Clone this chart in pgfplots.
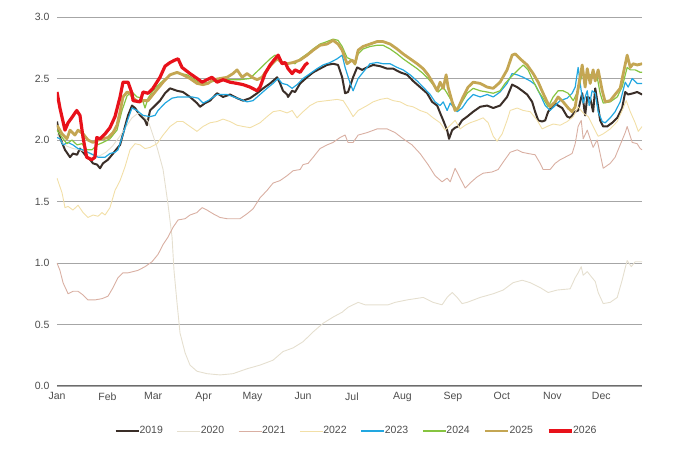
\documentclass[border=0pt]{standalone}
\usepackage{fontspec}
\setmainfont{Liberation Sans}
\usepackage{pgfplots}
\pgfplotsset{compat=1.18}
\definecolor{c2019}{HTML}{3A2E28}
\definecolor{c2020}{HTML}{E5DFCF}
\definecolor{c2021}{HTML}{D9AFA2}
\definecolor{c2022}{HTML}{F2DFA7}
\definecolor{c2023}{HTML}{22A7E0}
\definecolor{c2024}{HTML}{86C440}
\definecolor{c2025}{HTML}{C4A653}
\definecolor{c2026}{HTML}{E8111A}
\definecolor{gridc}{HTML}{A6A6A6}
\definecolor{labc}{HTML}{4D4D4D}
\begin{document}
\begin{tikzpicture}
\begin{axis}[
  width=585pt, height=369pt, scale only axis,
  xmin=0, xmax=359, ymin=0, ymax=3,
  axis line style={draw=none},
  ytick={0,0.5,1,1.5,2,2.5,3},
  xtick={0,31,59,90,120,151,181,212,243,273,304,334},
  xticklabels={Jan,Feb,Mar,Apr,May,Jun,Jul,Aug,Sep,Oct,Nov,Dec},
  major tick length=0pt,
  ymajorgrids, grid style={color=gridc, line width=0.9pt},
  /pgf/number format/assume math mode=true,
  /pgf/number format/fixed, /pgf/number format/fixed zerofill, /pgf/number format/precision=1,
  tick label style={font=\fontsize{10.5}{12}\selectfont, text=labc},
  yticklabel style={xshift=-4pt},
  xticklabel style={yshift=-3pt},
  legend columns=-1,
  legend style={at={(0.512,-0.122)}, anchor=center, draw=none, fill=none,
    font=\fontsize{10.5}{12}\selectfont, text=labc,
    /tikz/every even column/.append style={column sep=12pt},
    /tikz/every odd column/.append style={column sep=-2pt}},
  legend image code/.code={\draw[#1] (0pt,0pt) -- (23pt,0pt);},
  every axis plot/.append style={line join=round},
]
\coordinate (ll) at (rel axis cs:0,0);
\coordinate (ur) at (rel axis cs:1,1);
\draw[color=gray!85!black, line width=1.6pt] (rel axis cs:0,0) -- (rel axis cs:1,0);

% 2019
\addplot[c2019, line width=2pt] coordinates {
(0,2.15) (1.8,2.02) (4.9,1.92) (8.0,1.86) (9.8,1.89) (12.3,1.88) (14.1,1.93) (16.0,1.90) (18.4,1.86) (20.3,1.84) (22.1,1.81) (24.6,1.80) (26.4,1.77) (28.2,1.81) (31.3,1.84) (34.4,1.89) (36.8,1.93) (38.7,1.96) (40.5,2.05) (43.6,2.20) (46.0,2.28) (47.9,2.26) (51.0,2.20) (54.0,2.16) (55.2,2.12) (57.1,2.24) (60.2,2.28) (63.2,2.32) (66.3,2.38) (69.4,2.42) (73.7,2.40) (77.3,2.39) (81.6,2.35) (85.9,2.30) (87.8,2.27) (90.9,2.30) (93.9,2.32) (98.2,2.38) (101.9,2.35) (106.2,2.37) (110.5,2.34) (114.2,2.32) (118.5,2.34) (122.8,2.38) (126.5,2.42) (130.8,2.46) (135.1,2.51) (136.9,2.46) (138.7,2.40) (141.2,2.37) (141.8,2.35) (144.3,2.40) (146.1,2.39) (149.2,2.46) (153.5,2.51) (157.2,2.55) (161.4,2.58) (165.7,2.61) (169.4,2.62) (172.5,2.61) (175.0,2.51) (176.8,2.38) (178.6,2.39) (181.7,2.51) (184.2,2.59) (187.2,2.57) (190.3,2.59) (194.0,2.61) (198.3,2.60) (202.6,2.58) (206.3,2.58) (210.6,2.55) (214.9,2.53) (218.5,2.48) (222.8,2.43) (227.1,2.38) (230.2,2.31) (233.3,2.28) (235.1,2.22) (237.0,2.16) (239.4,2.08) (240.6,2.01) (242.5,2.08) (244.3,2.10) (246.2,2.11) (248.6,2.16) (251.7,2.19) (255.4,2.23) (259.7,2.27) (264.0,2.28) (267.7,2.26) (271.9,2.28) (276.2,2.35) (279.3,2.45) (282.4,2.43) (285.5,2.40) (288.5,2.37) (291.6,2.31) (293.4,2.23) (295.3,2.16) (297.7,2.15) (299.6,2.16) (301.4,2.23) (303.9,2.27) (305.7,2.30) (307.5,2.28) (310.0,2.26) (313.1,2.19) (314.9,2.18) (318.0,2.23) (319.8,2.24) (322.3,2.38) (324.1,2.20) (325.4,2.35) (327.2,2.34) (329.0,2.23) (330.3,2.42) (332.1,2.27) (333.3,2.16) (335.2,2.11) (337.6,2.11) (340.7,2.14) (343.8,2.18) (346.8,2.26) (348.7,2.39) (350.5,2.37) (353.6,2.38) (356.0,2.39) (359.1,2.37)
};
\addlegendentry{2019}

% 2020
\addplot[c2020, line width=0.9pt] coordinates {
(0,2.05) (3,1.98) (6,1.95) (10,1.93) (14,1.92) (18,1.90) (22,1.88) (26,1.87) (30,1.90) (34,1.95) (38,2.02) (42,2.10) (46,2.18) (50,2.22) (53,2.20) (55.9,2.15) (57.1,2.11) (61.4,1.94) (65.1,1.76) (68.1,1.48) (70.6,1.21) (71.8,0.94) (73.7,0.67) (75.5,0.43) (78.6,0.27) (81.6,0.17) (85.9,0.12) (92.1,0.10) (100.1,0.09) (108.0,0.10) (116.6,0.14) (124.6,0.17) (132.6,0.21) (138.7,0.28) (144.9,0.31) (151.0,0.36) (157.2,0.44) (163.3,0.51) (169.4,0.56) (175.0,0.60) (178.6,0.64) (181.7,0.66) (184.8,0.68) (189.1,0.66) (196.4,0.66) (203.2,0.66) (207.5,0.68) (214.9,0.70) (224.7,0.72) (230.8,0.68) (236.3,0.66) (239.4,0.72) (242.5,0.76) (245.6,0.72) (248.6,0.67) (251.7,0.68) (259.7,0.72) (267.7,0.75) (273.8,0.78) (279.9,0.84) (285.5,0.86) (290.4,0.84) (296.5,0.80) (301.4,0.76) (306.9,0.78) (314.9,0.79) (318.0,0.88) (319.8,0.92) (321.7,0.97) (322.9,0.90) (325.4,0.93) (328.4,0.88) (330.3,0.85) (332.1,0.76) (335.2,0.67) (339.5,0.68) (343.8,0.72) (346.8,0.86) (348.7,0.96) (349.9,1.02) (352.4,0.97) (354.8,1.01) (359.1,1.01)
};
\addlegendentry{2020}

% 2021
\addplot[c2021, line width=0.9pt] coordinates {
(0,1.00) (1.8,0.94) (3.7,0.84) (6.8,0.75) (9.8,0.77) (12.9,0.77) (16.0,0.74) (19.0,0.70) (23.3,0.70) (27.6,0.71) (31.3,0.73) (34.4,0.80) (37.4,0.88) (40.5,0.92) (43.6,0.92) (46.7,0.93) (49.7,0.94) (54.0,0.97) (58.3,1.01) (62.0,1.07) (65.1,1.15) (68.1,1.21) (71.2,1.29) (74.3,1.35) (78.6,1.36) (81.6,1.39) (85.9,1.41) (89.0,1.45) (92.1,1.43) (95.8,1.40) (100.1,1.37) (104.4,1.36) (108.0,1.36) (112.3,1.36) (116.6,1.40) (120.3,1.44) (124.6,1.53) (128.9,1.59) (132.6,1.65) (136.9,1.67) (141.2,1.71) (144.9,1.75) (149.2,1.76) (151.0,1.80) (154.1,1.81) (157.2,1.86) (161.4,1.93) (165.7,1.96) (169.4,1.98) (173.7,2.02) (176.8,2.04) (178.6,1.98) (181.7,1.98) (184.8,2.04) (190.3,2.06) (196.4,2.09) (202.6,2.09) (207.5,2.06) (212.4,2.01) (217.9,1.96) (222.8,1.89) (227.7,1.80) (232.0,1.71) (236.3,1.66) (239.4,1.69) (241.3,1.66) (244.3,1.77) (247.4,1.69) (250.5,1.61) (253.5,1.65) (257.8,1.70) (261.5,1.73) (267.0,1.74) (270.7,1.76) (273.8,1.82) (278.1,1.90) (282.4,1.92) (285.5,1.90) (289.1,1.89) (293.4,1.88) (296.5,1.81) (298.3,1.76) (302.6,1.76) (305.7,1.81) (308.8,1.84) (311.8,1.86) (316.1,1.89) (318.0,1.97) (319.8,2.11) (321.7,2.16) (322.9,2.01) (325.4,2.08) (327.2,2.01) (329.0,1.94) (331.5,2.00) (335.2,1.77) (339.5,1.81) (342.5,1.86) (345.6,1.96) (348.7,2.06) (349.9,2.11) (353.0,1.98) (356.0,1.97) (357.9,1.93) (359.1,1.92)
};
\addlegendentry{2021}

% 2022
\addplot[c2022, line width=0.9pt] coordinates {
(0,1.69) (3.1,1.57) (4.9,1.45) (6.8,1.46) (9.8,1.43) (12.9,1.47) (16.0,1.41) (19.0,1.37) (22.1,1.39) (25.2,1.38) (27.6,1.41) (29.5,1.39) (32.5,1.45) (35.6,1.59) (38.7,1.67) (41.7,1.78) (44.8,1.92) (47.9,1.97) (51.0,1.96) (54.0,1.93) (57.1,1.94) (61.4,1.97) (65.1,2.04) (69.4,2.11) (73.7,2.15) (77.3,2.15) (81.6,2.11) (85.9,2.07) (89.6,2.11) (93.9,2.14) (98.2,2.15) (101.9,2.17) (106.2,2.15) (110.5,2.12) (114.2,2.11) (118.5,2.10) (124.6,2.14) (128.9,2.19) (132.6,2.23) (136.9,2.24) (141.2,2.22) (144.3,2.24) (147.3,2.18) (151.0,2.23) (155.3,2.28) (159.6,2.31) (165.7,2.32) (171.9,2.33) (175.6,2.32) (178.6,2.26) (181.7,2.19) (184.8,2.24) (190.3,2.28) (194.0,2.31) (198.3,2.33) (202.6,2.34) (206.3,2.32) (210.6,2.31) (214.9,2.28) (218.5,2.27) (222.8,2.24) (227.1,2.22) (230.8,2.18) (235.1,2.14) (238.2,2.08) (241.3,2.12) (244.3,2.16) (247.4,2.09) (250.5,2.12) (253.5,2.14) (257.8,2.16) (261.5,2.18) (264.6,2.14) (267.7,2.03) (270.1,1.99) (273.2,2.05) (276.2,2.16) (278.1,2.24) (282.4,2.26) (286.1,2.24) (290.4,2.23) (294.7,2.16) (297.7,2.09) (300.8,2.11) (304.5,2.13) (308.8,2.12) (313.1,2.15) (316.8,2.19) (319.8,2.27) (322.9,2.22) (326.0,2.19) (329.0,2.11) (332.1,2.03) (335.2,2.05) (339.5,2.09) (343.8,2.15) (346.8,2.24) (349.3,2.32) (351.8,2.23) (354.8,2.14) (356.7,2.07) (359.1,2.11)
};
\addlegendentry{2022}

% 2023
\addplot[c2023, line width=1.2pt] coordinates {
(0,2.02) (1.8,2.01) (3.7,1.96) (6.8,1.98) (9.8,1.96) (12.9,1.93) (16.0,1.92) (19.0,1.90) (22.1,1.88) (25.2,1.86) (29.5,1.86) (32.5,1.89) (35.6,1.90) (37.4,1.92) (39.9,2.02) (43.0,2.15) (46.0,2.26) (49.1,2.24) (52.8,2.20) (57.1,2.19) (60.2,2.20) (62.0,2.24) (66.3,2.30) (70.6,2.34) (74.3,2.35) (78.6,2.35) (82.9,2.35) (86.6,2.34) (89.6,2.30) (92.7,2.32) (98.2,2.37) (104.4,2.37) (110.5,2.34) (116.6,2.31) (120.3,2.32) (124.6,2.37) (128.9,2.42) (132.6,2.46) (135.7,2.50) (138.1,2.46) (141.2,2.45) (144.3,2.42) (147.3,2.45) (151.0,2.50) (155.3,2.54) (159.6,2.58) (163.3,2.61) (167.6,2.63) (171.9,2.66) (175.0,2.69) (176.8,2.59) (179.9,2.46) (181.7,2.40) (184.8,2.50) (187.8,2.55) (192.1,2.62) (196.4,2.63) (200.1,2.62) (204.4,2.62) (208.7,2.59) (212.4,2.57) (216.7,2.53) (221.0,2.48) (224.7,2.43) (229.0,2.37) (232.0,2.31) (235.1,2.28) (237.0,2.31) (239.4,2.24) (241.3,2.30) (243.1,2.27) (245.6,2.23) (248.6,2.26) (251.7,2.32) (255.4,2.37) (259.7,2.35) (264.0,2.37) (267.7,2.35) (271.9,2.39) (276.2,2.46) (279.3,2.54) (282.4,2.53) (286.1,2.51) (290.4,2.48) (293.4,2.45) (296.5,2.37) (299.6,2.28) (302.6,2.24) (305.7,2.28) (308.8,2.32) (313.1,2.34) (316.1,2.38) (318.0,2.43) (319.8,2.59) (321.7,2.40) (322.9,2.30) (325.4,2.40) (326.6,2.28) (328.4,2.40) (330.3,2.38) (332.1,2.23) (334.6,2.15) (336.4,2.14) (339.5,2.18) (342.5,2.23) (345.6,2.31) (348.7,2.47) (350.5,2.43) (353.0,2.50) (356.0,2.46) (359.1,2.46)
};
\addlegendentry{2023}

% 2024
\addplot[c2024, line width=1.2pt] coordinates {
(0,2.08) (3.1,2.02) (6.1,1.97) (9.2,2.00) (12.3,1.96) (15.3,1.97) (18.4,1.92) (21.5,1.92) (24.6,1.96) (28.2,1.98) (32.5,2.01) (36.8,2.08) (39.9,2.24) (43.0,2.36) (46.0,2.39) (49.1,2.35) (52.2,2.34) (54.0,2.26) (55.9,2.34) (58.9,2.40) (63.2,2.46) (67.5,2.51) (71.2,2.54) (75.5,2.54) (79.8,2.53) (83.5,2.50) (87.8,2.46) (93.9,2.47) (100.1,2.49) (106.2,2.49) (112.3,2.49) (118.5,2.50) (121.5,2.54) (124.6,2.58) (127.7,2.62) (130.8,2.66) (133.8,2.69) (136.9,2.65) (140.0,2.62) (143.0,2.63) (146.1,2.62) (149.2,2.66) (153.5,2.70) (157.2,2.74) (161.4,2.78) (165.7,2.80) (169.4,2.82) (172.5,2.81) (175.0,2.76) (178.0,2.67) (181.1,2.65) (182.9,2.61) (184.8,2.70) (187.8,2.74) (192.1,2.76) (196.4,2.77) (200.1,2.77) (204.4,2.74) (208.7,2.70) (212.4,2.66) (216.7,2.62) (221.0,2.58) (224.7,2.54) (227.7,2.50) (230.8,2.45) (233.9,2.39) (237.0,2.43) (239.4,2.38) (242.5,2.31) (245.6,2.24) (248.6,2.31) (251.7,2.38) (255.4,2.42) (259.7,2.40) (264.0,2.39) (267.7,2.38) (271.9,2.40) (275.0,2.46) (279.9,2.53) (283.0,2.57) (286.1,2.61) (289.1,2.57) (292.2,2.48) (295.3,2.40) (298.3,2.34) (301.4,2.27) (304.5,2.35) (307.5,2.40) (310.6,2.40) (313.7,2.38) (316.8,2.32) (319.8,2.40) (322.3,2.54) (325.4,2.51) (328.4,2.54) (331.5,2.51) (333.3,2.38) (335.2,2.30) (339.5,2.31) (343.8,2.35) (346.8,2.43) (349.9,2.59) (351.8,2.57) (354.8,2.57) (357.9,2.55) (359.1,2.55)
};
\addlegendentry{2024}

% 2025
\addplot[c2025, line width=2.8pt] coordinates {
(0,2.12) (3.1,2.05) (6.1,2.01) (8.0,2.08) (11.0,2.04) (12.9,2.08) (16.0,2.05) (19.0,2.00) (22.1,1.98) (25.2,2.00) (28.2,2.01) (31.3,2.02) (34.4,2.06) (36.8,2.12) (38.7,2.23) (40.5,2.35) (43.0,2.39) (44.8,2.38) (46.7,2.34) (49.7,2.31) (52.8,2.32) (55.9,2.32) (58.9,2.37) (62.0,2.42) (65.1,2.47) (69.4,2.53) (73.7,2.55) (77.3,2.53) (81.6,2.50) (85.9,2.46) (89.6,2.45) (92.7,2.46) (95.8,2.49) (100.1,2.50) (104.4,2.51) (108.0,2.54) (110.5,2.57) (113.6,2.51) (116.6,2.54) (119.7,2.51) (122.8,2.49) (125.8,2.51) (128.9,2.57) (132.0,2.62) (135.1,2.66) (138.1,2.63) (141.2,2.62) (144.9,2.63) (149.2,2.65) (153.5,2.69) (157.2,2.73) (161.4,2.77) (165.7,2.78) (169.4,2.81) (172.5,2.78) (175.0,2.73) (178.0,2.62) (181.1,2.65) (182.9,2.62) (184.8,2.73) (187.8,2.76) (192.1,2.78) (196.4,2.80) (200.1,2.80) (204.4,2.78) (208.7,2.74) (212.4,2.70) (216.7,2.66) (221.0,2.62) (224.7,2.58) (227.7,2.53) (230.8,2.46) (233.3,2.40) (235.1,2.47) (237.0,2.42) (238.8,2.53) (240.0,2.43) (242.5,2.31) (244.3,2.24) (246.2,2.26) (249.2,2.35) (252.3,2.43) (255.4,2.47) (259.7,2.46) (264.0,2.43) (267.7,2.42) (271.9,2.47) (276.2,2.57) (279.3,2.69) (281.2,2.70) (284.2,2.66) (288.5,2.61) (292.2,2.54) (295.3,2.47) (298.3,2.38) (300.8,2.31) (302.6,2.27) (305.7,2.31) (307.5,2.35) (310.6,2.31) (313.7,2.26) (316.1,2.23) (318.0,2.27) (319.8,2.42) (322.3,2.61) (324.1,2.43) (325.4,2.58) (327.2,2.46) (329.0,2.57) (330.3,2.48) (332.1,2.57) (334.6,2.40) (336.4,2.31) (339.5,2.32) (342.5,2.37) (345.6,2.42) (347.5,2.54) (349.9,2.69) (351.8,2.59) (353.6,2.62) (356.0,2.61) (359.1,2.62)
};
\addlegendentry{2025}

% 2026
\addplot[c2026, line width=3.2pt] coordinates {
(0,2.39) (1.8,2.26) (4.9,2.08) (6.8,2.14) (9.0,2.18) (12.1,2.24) (14.1,2.20) (16.0,2.02) (18.2,1.86) (21.3,1.84) (23.3,1.86) (24.4,2.02) (26.4,2.01) (29.5,2.05) (32.5,2.10) (35.6,2.19) (38.7,2.35) (40.5,2.47) (43.6,2.47) (46.0,2.38) (46.7,2.32) (51.0,2.31) (52.8,2.39) (55.9,2.38) (58.9,2.42) (63.2,2.51) (66.3,2.60) (69.4,2.63) (72.4,2.65) (74.3,2.66) (76.7,2.59) (81.6,2.54) (86.0,2.50) (89.0,2.47) (92.0,2.49) (95.1,2.51) (98.2,2.47) (101.9,2.49) (106.2,2.47) (110.5,2.46) (114.2,2.45) (118.5,2.43) (122.8,2.40) (124.6,2.43) (127.7,2.54) (130.8,2.61) (133.8,2.66) (135.7,2.69) (138.1,2.62) (140.0,2.63) (141.8,2.58) (144.3,2.54) (146.1,2.57) (149.2,2.55) (152.3,2.61) (154.1,2.63)
};
\addlegendentry{2026}
\end{axis}
\path ([shift={(-57pt,-76pt)}]ll) rectangle ([shift={(38pt,17pt)}]ur);
\end{tikzpicture}
\end{document}
